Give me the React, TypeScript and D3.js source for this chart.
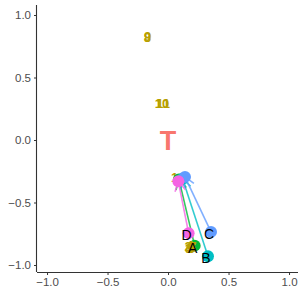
import React, { useEffect, useRef } from 'react';
import * as d3 from 'd3';

// groups: start (site) and end positions
const groups = ['A', 'B', 'C', 'D'];
const groupColors = ['#00BA38', '#00BFC4', '#619CFF', '#F564E3'];
const startX = [0.22, 0.33, 0.355, 0.17];
const startY = [-0.845, -0.93, -0.735, -0.745];
const endX = [0.09, 0.12, 0.14, 0.085];
const endY = [-0.315, -0.31, -0.295, -0.33];

// numbered labels
const numLabels = ['2', '4', '6', '3', '5', '7', '1', '9', '8', '11', '10'];
const numX = [0.165, 0.18, 0.2, 0.17, 0.19, 0.205, 0.055, -0.168, -0.17, -0.04, -0.05];
const numY = [-0.85, -0.84, -0.86, -0.87, -0.865, -0.85, -0.3, 0.83, 0.82, 0.29, 0.29];

const xTicks = [-1, -0.5, 0, 0.5, 1];
const yTicks = [-1, -0.5, 0, 0.5, 1];

const App = () => {
    const ref = useRef<SVGSVGElement>(null);

    useEffect(() => {
        const svg = d3.select(ref.current);
        svg.selectAll('*').remove();

        const x = d3.scaleLinear().domain([-1.083, 1.074]).range([37, 298]);
        const y = d3.scaleLinear().domain([-1.056, 1.08]).range([272, 5]);

        svg.append('rect').attr('width', 303).attr('height', 303).attr('fill', '#fff');

        // axes
        const gx = svg.append('g').attr('transform', 'translate(0,272)')
            .call(d3.axisBottom(x).tickValues(xTicks).tickSize(3).tickPadding(3));
        const gy = svg.append('g').attr('transform', 'translate(37,0)')
            .call(d3.axisLeft(y).tickValues(yTicks).tickSize(3).tickPadding(3));
        [gx, gy].forEach(g => {
            g.select('.domain').attr('stroke', '#333').attr('stroke-width', 1.1);
            g.selectAll('.tick line').attr('stroke', '#333');
            g.selectAll('.tick text').attr('fill', '#4D4D4D').attr('font-size', 11.5)
                .attr('font-family', 'Liberation Sans, Arial, sans-serif')
                .text((d: any) => d3.format('.1f')(d).replace('-', '\u2212'));
        });
        gx.select('.domain').attr('d', 'M37,0.5H298');
        gy.select('.domain').attr('d', 'M-0.5,5V272');

        // T label
        svg.append('text').attr('x', x(0)).attr('y', y(0)).attr('dy', '0.36em')
            .attr('text-anchor', 'middle').attr('fill', '#F8766D')
            .attr('font-family', 'Liberation Sans, Arial, sans-serif')
            .attr('font-weight', 'bold').attr('font-size', 27).text('T');

        // arrows
        const idx = d3.range(groups.length);
        idx.forEach(i => {
            const x1 = x(startX[i]), y1 = y(startY[i]), x2 = x(endX[i]), y2 = y(endY[i]);
            const ang = Math.atan2(y2 - y1, x2 - x1);
            const len = 11;
            const g = svg.append('g').attr('stroke', groupColors[i]).attr('stroke-width', 1.6)
                .attr('stroke-opacity', 0.8).attr('fill', 'none');
            g.append('line').attr('x1', x1).attr('y1', y1).attr('x2', x2).attr('y2', y2);
            [-0.5, 0.5].forEach(a => {
                g.append('line').attr('x1', x2).attr('y1', y2)
                    .attr('x2', x2 - len * Math.cos(ang + a)).attr('y2', y2 - len * Math.sin(ang + a));
            });
        });

        // points at both ends
        idx.forEach(i => {
            svg.append('circle').attr('cx', x(startX[i])).attr('cy', y(startY[i])).attr('r', 6)
                .attr('fill', groupColors[i]);
        });

        // numbered labels
        svg.selectAll('.num').data(numLabels).enter().append('text')
            .attr('x', (d, i) => x(numX[i])).attr('y', (d, i) => y(numY[i])).attr('dy', '0.36em')
            .attr('text-anchor', 'middle').attr('fill', '#B79F00')
            .attr('font-family', 'Liberation Sans, Arial, sans-serif')
            .attr('font-weight', 'bold').attr('font-size', 13).text(d => d);

        idx.forEach(i => {
            svg.append('circle').attr('cx', x(endX[i])).attr('cy', y(endY[i])).attr('r', 6)
                .attr('fill', groupColors[i]);
        });

        // group labels
        svg.selectAll('.grp').data(groups).enter().append('text')
            .attr('x', (d, i) => x(startX[i]) - 2).attr('y', (d, i) => y(startY[i]) + 2).attr('dy', '0.36em')
            .attr('text-anchor', 'middle').attr('fill', '#000')
            .attr('font-family', 'Liberation Sans, Arial, sans-serif')
            .attr('font-size', 14).text(d => d);
    }, []);

    return (
        <svg ref={ref} width={303} height={303} style={{ position: 'absolute', left: 0, top: 0 }} />
    );
};

export default App;
